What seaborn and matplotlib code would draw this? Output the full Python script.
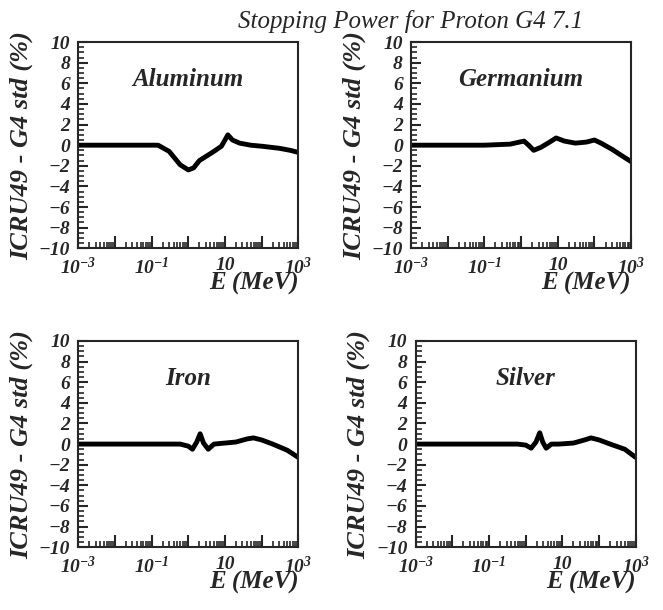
import numpy as np
import matplotlib
matplotlib.use("Agg")
import matplotlib.pyplot as plt
import matplotlib.ticker as mticker
import pandas as pd
import seaborn as sns

# energy grid (MeV) and deviation ICRU49 - G4 std (%)
e_al = [1e-3, 0.01, 0.05, 0.15, 0.3, 0.6, 1.0, 1.4, 2.0, 3.0, 5.0, 8.0, 12.0, 16.0, 25.0, 50.0, 100.0, 300.0, 600.0, 1000.0]
d_al = [0.0, 0.0, 0.0, 0.0, -0.6, -1.9, -2.4, -2.2, -1.5, -1.1, -0.6, -0.1, 1.0, 0.5, 0.2, 0.0, -0.1, -0.3, -0.5, -0.7]

e_ge = [1e-3, 0.01, 0.1, 0.5, 0.9, 1.2, 1.6, 2.2, 3.5, 6.0, 9.0, 15.0, 30.0, 60.0, 100.0, 150.0, 300.0, 600.0, 1000.0]
d_ge = [0.0, 0.0, 0.0, 0.1, 0.3, 0.4, 0.0, -0.5, -0.2, 0.3, 0.7, 0.4, 0.2, 0.3, 0.5, 0.2, -0.4, -1.1, -1.6]

e_fe = [1e-3, 0.01, 0.1, 0.6, 1.0, 1.3, 1.7, 2.1, 2.6, 3.5, 5.0, 10.0, 20.0, 40.0, 60.0, 100.0, 200.0, 500.0, 1000.0]
d_fe = [0.0, 0.0, 0.0, 0.0, -0.2, -0.5, 0.2, 1.0, 0.1, -0.5, 0.0, 0.1, 0.2, 0.5, 0.6, 0.4, 0.0, -0.6, -1.3]

e_ag = [1e-3, 0.01, 0.1, 0.6, 1.0, 1.4, 1.9, 2.4, 2.9, 3.6, 5.0, 8.0, 20.0, 40.0, 60.0, 100.0, 200.0, 500.0, 1000.0]
d_ag = [0.0, 0.0, 0.0, 0.0, -0.1, -0.4, 0.2, 1.1, 0.2, -0.4, 0.0, 0.0, 0.1, 0.4, 0.6, 0.4, 0.0, -0.5, -1.3]

materials = ["Aluminum", "Germanium", "Iron", "Silver"]
energies = [e_al, e_ge, e_fe, e_ag]
devs = [d_al, d_ge, d_fe, d_ag]

sns.set_style("ticks")
plt.rcParams["font.family"] = ["Liberation Serif", "DejaVu Serif"]
plt.rcParams["font.weight"] = "bold"
plt.rcParams["font.style"] = "italic"
plt.rcParams["axes.labelweight"] = "bold"
plt.rcParams["mathtext.fontset"] = "custom"
plt.rcParams["mathtext.rm"] = "Liberation Serif:bold:italic"
plt.rcParams["mathtext.it"] = "Liberation Serif:bold:italic"

fig = plt.figure(figsize=(6.63, 6.10), dpi=100)
positions = [
    [0.118, 0.593, 0.332, 0.338],
    [0.620, 0.593, 0.332, 0.338],
    [0.118, 0.103, 0.332, 0.338],
    [0.627, 0.103, 0.332, 0.338],
]

xlabels = {1e-3: "$10^{-3}$", 1e-1: "$10^{-1}$", 1e1: "10", 1e3: "$10^{3}$"}


def fmt(v, p):
    for k, lab in xlabels.items():
        if abs(np.log10(v) - np.log10(k)) < 0.01:
            return lab
    return ""


for pos, name, e, d in zip(positions, materials, energies, devs):
    ax = fig.add_axes(pos)
    df = pd.DataFrame({"E": e, "dev": d})
    sns.lineplot(data=df, x="E", y="dev", ax=ax, color="black", linewidth=3.5)
    ax.set_xscale("log")
    ax.set_xlim(1e-3, 1e3)
    ax.set_ylim(-10, 10)
    ax.set_yticks(np.arange(-10, 11, 2))
    ax.yaxis.set_minor_locator(mticker.MultipleLocator(0.5))
    ax.xaxis.set_major_locator(mticker.LogLocator(base=10, numticks=10))
    ax.xaxis.set_minor_locator(mticker.LogLocator(base=10, subs=np.arange(2, 10), numticks=20))
    ax.xaxis.set_major_formatter(mticker.FuncFormatter(fmt))
    ax.xaxis.set_minor_formatter(mticker.NullFormatter())
    ax.tick_params(which="major", direction="in", length=7, width=1.5, labelsize=14, pad=6)
    ax.tick_params(which="minor", direction="in", length=4, width=1.2)
    ax.tick_params(axis="x", which="major", length=9)
    for s in ax.spines.values():
        s.set_linewidth(1.5)
    ax.set_xlabel("E (MeV)", fontsize=18, labelpad=-4, loc="right")
    ax.set_ylabel("ICRU49 - G4 std (%)", fontsize=19, labelpad=4)
    ax.text(0.5, 0.82, name, transform=ax.transAxes, ha="center", va="center", fontsize=18)

fig.text(0.62, 0.965, "Stopping Power for Proton G4 7.1", ha="center", va="center",
         fontsize=18, fontweight="normal")

fig.savefig("out.png", dpi=100)
